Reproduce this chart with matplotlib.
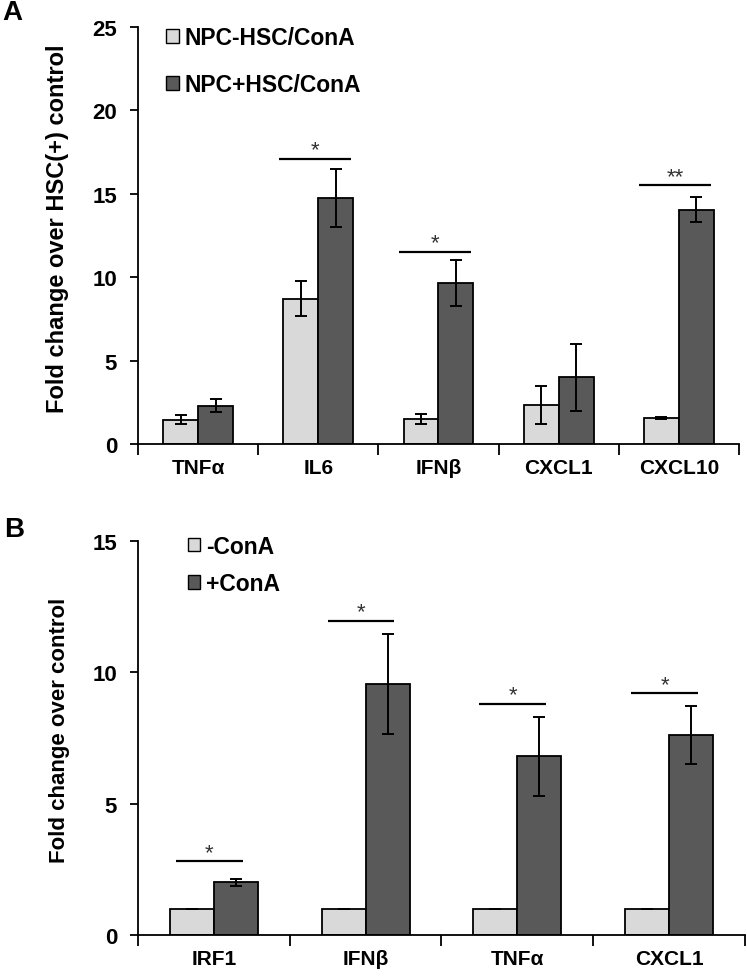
import matplotlib
matplotlib.use("Agg")
import matplotlib.pyplot as plt
import numpy as np
from matplotlib.patches import Patch

plt.rcParams["font.family"] = ["Liberation Sans", "DejaVu Sans"]
plt.rcParams["font.weight"] = "bold"

# Panel A data
cats_a = ["TNFα", "IL6", "IFNβ", "CXCL1", "CXCL10"]
minus_hsc = [1.45, 8.7, 1.5, 2.35, 1.55]
minus_hsc_err = [0.28, 1.05, 0.3, 1.15, 0.08]
plus_hsc = [2.3, 14.75, 9.65, 4.0, 14.05]
plus_hsc_err = [0.4, 1.75, 1.4, 2.0, 0.77]
sig_a_idx = [1, 2, 4]
sig_a_y = [17.1, 11.5, 15.5]
sig_a_txt = ["*", "*", "**"]

# Panel B data
cats_b = ["IRF1", "IFNβ", "TNFα", "CXCL1"]
minus_cona = [1.0, 1.0, 1.0, 1.0]
minus_cona_err = [0, 0, 0, 0]
plus_cona = [2.0, 9.55, 6.8, 7.6]
plus_cona_err = [0.13, 1.9, 1.5, 1.1]
sig_b_idx = [0, 1, 2, 3]
sig_b_y = [2.8, 11.95, 8.8, 9.2]
sig_b_txt = ["*", "*", "*", "*"]

light = "#d9d9d9"
dark = "#595959"


def draw_panel(ax, cats, v1, e1, v2, e2, labels, ymax, ylabel, ylabel_size,
               sig_idx, sig_y, sig_txt, half, leg_anchor, leg_space):
    x = np.arange(len(cats))
    w = 0.29
    ekw = dict(ecolor="black", elinewidth=1.4, capsize=4.5, capthick=1.4)
    ax.bar(x - w / 2, v1, w, yerr=e1, color=light, edgecolor="black",
           linewidth=1.3, error_kw=ekw, label=labels[0])
    ax.bar(x + w / 2, v2, w, yerr=e2, color=dark, edgecolor="black",
           linewidth=1.3, error_kw=ekw, label=labels[1])

    for i, y, t in zip(sig_idx, sig_y, sig_txt):
        c = i - 0.03
        ax.plot([c - half, c + half], [y, y], color="black", lw=1.6,
                solid_capstyle="butt")
        ax.annotate(t, (c, y), xytext=(0, -1), textcoords="offset points",
                    ha="center", va="bottom", fontsize=16, color="#333333",
                    fontweight="normal")

    ax.set_xlim(-0.5, len(cats) - 0.5)
    ax.set_ylim(0, ymax)
    ax.set_yticks(np.arange(0, ymax + 1, 5))
    ax.set_xticks(np.arange(len(cats) + 1) - 0.5)
    ax.set_xticklabels([])
    ax.set_xticks(x, minor=True)
    ax.set_xticklabels(cats, minor=True, fontsize=15, fontweight="bold")
    ax.tick_params(axis="x", which="major", direction="out", length=8,
                   width=1.3)
    ax.tick_params(axis="x", which="minor", length=0, pad=10)
    ax.tick_params(axis="y", direction="out", length=6, width=1.3,
                   labelsize=16, pad=9)
    for lab in ax.get_yticklabels():
        lab.set_fontweight("bold")
    for s in ["top", "right"]:
        ax.spines[s].set_visible(False)
    for s in ["left", "bottom"]:
        ax.spines[s].set_linewidth(1.3)
    ax.set_ylabel(ylabel, fontsize=ylabel_size, fontweight="bold")

    handles = [Patch(facecolor=light, edgecolor="black", lw=1),
               Patch(facecolor=dark, edgecolor="black", lw=1)]
    ax.legend(handles, labels, loc="upper left", bbox_to_anchor=leg_anchor,
              frameon=False, handlelength=0.55, handleheight=0.55,
              handletextpad=0.25, labelspacing=leg_space,
              borderpad=0, borderaxespad=0,
              prop=dict(size=16.5, weight="bold"))


fig = plt.figure(figsize=(7.47, 9.79), dpi=100)
ax_a = fig.add_axes([0.1847, 0.5455, 0.8046, 0.4259])
ax_b = fig.add_axes([0.1847, 0.0439, 0.8126, 0.4025])

draw_panel(ax_a, cats_a, minus_hsc, minus_hsc_err, plus_hsc, plus_hsc_err,
           ["NPC-HSC/ConA", "NPC+HSC/ConA"], 25,
           "Fold change over HSC(+) control", 17,
           sig_a_idx, sig_a_y, sig_a_txt, 0.3, (0.047, 1.002), 1.05)
draw_panel(ax_b, cats_b, minus_cona, minus_cona_err, plus_cona,
           plus_cona_err, ["-ConA", "+ConA"], 15,
           "Fold change over control", 16,
           sig_b_idx, sig_b_y, sig_b_txt, 0.22, (0.082, 1.016), 0.62)

ax_a.yaxis.set_label_coords(-0.115, 0.518)
ax_b.yaxis.set_label_coords(-0.112, 0.523)

fig.text(12.5 / 747, 1 - 13 / 979, "A", fontsize=20, fontweight="bold",
         ha="center", va="center")
fig.text(14 / 747, 1 - 530 / 979, "B", fontsize=20, fontweight="bold",
         ha="center", va="center")

fig.savefig("out.png", dpi=100)
